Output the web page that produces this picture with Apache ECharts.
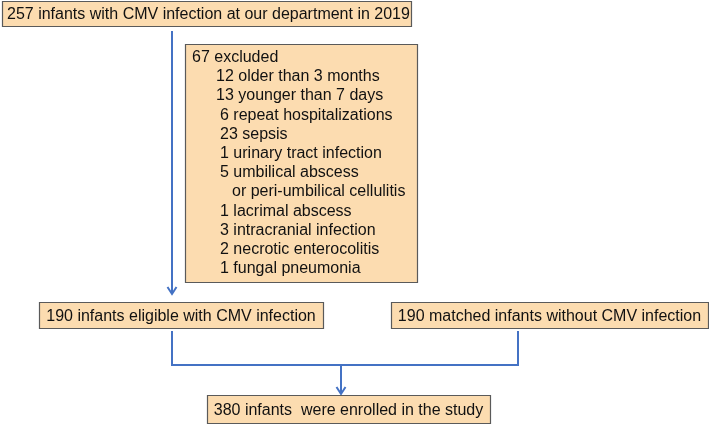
<!DOCTYPE html>
<html>
<head>
<meta charset="utf-8">
<script src="https://cdn.jsdelivr.net/npm/echarts@6/dist/echarts.min.js"></script>
<style>
  html, body { margin: 0; padding: 0; background: #fff; }
  #chart { width: 709px; height: 424px; }
</style>
</head>
<body>
<div id="chart"></div>
<script>
// texts of the boxes
const boxTexts = [
  '257 infants with CMV infection at our department in 2019',
  '190 infants eligible with CMV infection',
  '190 matched infants without CMV infection',
  '380 infants  were enrolled in the study'
]
const excludedHeader = '67 excluded'
const excludedItems = [
  '12 older than 3 months',
  '13 younger than 7 days',
  '6 repeat hospitalizations',
  '23 sepsis',
  '1 urinary tract infection',
  '5 umbilical abscess',
  'or peri-umbilical cellulitis',
  '1 lacrimal abscess',
  '3 intracranial infection',
  '2 necrotic enterocolitis',
  '1 fungal pneumonia'
]

// layout (pixels of a 709x424 canvas)
const boxRects = [
  [2, 1, 411, 26],
  [39, 302, 323, 328],
  [391, 302, 708, 328],
  [207, 395, 490, 423]
]
const boxAlign = ['left', 'center', 'center', 'center']
const excludedRect = [185, 44, 417, 282]
const excludedIndent = [216, 216, 220, 220, 220, 220, 232, 220, 220, 220, 220]
const connectors = [
  [[172, 31], [172, 294]],
  [[172, 331], [172, 365], [518, 365], [518, 331]],
  [[341, 365], [341, 394]]
]
const arrowTips = [[172, 294], [341, 394]]

const FONT = '16px "Liberation Sans", Arial, sans-serif'
const FILL = '#FCDCB0'
const EDGE = '#5a5a5a'
const BLUE = '#4472C4'

const myChart = echarts.init(document.getElementById('chart'))

function boxShape(api, r, strokeW) {
  const p0 = api.coord([r[0], r[1]])
  const p1 = api.coord([r[2], r[3]])
  return {
    type: 'rect',
    shape: {x: p0[0] + 0.5, y: p0[1] + 0.5, width: p1[0] - p0[0], height: p1[1] - p0[1]},
    style: {fill: FILL, stroke: EDGE, lineWidth: strokeW}
  }
}

const option = {
  animation: false,
  grid: {left: 0, right: 0, top: 0, bottom: 0},
  xAxis: {type: 'value', min: 0, max: 709, show: false},
  yAxis: {type: 'value', min: 0, max: 424, inverse: true, show: false},
  series: [
    {
      // connector lines and arrow heads
      type: 'custom',
      data: connectors.map((c, i) => i),
      renderItem: function (params, api) {
        const path = connectors[params.dataIndex]
        const pts = path.map(p => api.coord(p))
        const children = [{
          type: 'polyline',
          shape: {points: pts},
          style: {stroke: BLUE, lineWidth: 2, fill: null}
        }]
        const last = path[path.length - 1]
        arrowTips.forEach(t => {
          if (last[0] === t[0] && last[1] === t[1]) {
            const tp = api.coord(t)
            children.push({
              type: 'polyline',
              shape: {points: [[tp[0] - 4.5, tp[1] - 7], tp, [tp[0] + 4.5, tp[1] - 7]]},
              style: {stroke: BLUE, lineWidth: 2, fill: null}
            })
          }
        })
        return {type: 'group', children: children}
      }
    },
    {
      // simple one-line boxes
      type: 'custom',
      data: boxTexts.map((t, i) => i),
      renderItem: function (params, api) {
        const i = params.dataIndex
        const r = boxRects[i]
        const p0 = api.coord([r[0], r[1]])
        const p1 = api.coord([r[2], r[3]])
        const tx = boxAlign[i] === 'left' ? p0[0] + 5 : (p0[0] + p1[0]) / 2
        return {
          type: 'group',
          children: [
            boxShape(api, r, 1.2),
            {
              type: 'text',
              style: {
                text: boxTexts[i], x: tx, y: (p0[1] + p1[1]) / 2 + 1.5,
                font: FONT, fill: '#111', align: boxAlign[i], verticalAlign: 'middle'
              }
            }
          ]
        }
      }
    },
    {
      // exclusion box
      type: 'custom',
      data: [0],
      renderItem: function (params, api) {
        const children = [boxShape(api, excludedRect, 1.2)]
        const lines = [excludedHeader].concat(excludedItems)
        const indents = [192].concat(excludedIndent)
        lines.forEach((txt, k) => {
          const p = api.coord([indents[k], 57.5 + k * 19.2])
          children.push({
            type: 'text',
            style: {
              text: txt, x: p[0], y: p[1],
              font: FONT, fill: '#111', align: 'left', verticalAlign: 'middle'
            }
          })
        })
        return {type: 'group', children: children}
      }
    }
  ]
}

option && myChart.setOption(option)
</script>
</body>
</html>
